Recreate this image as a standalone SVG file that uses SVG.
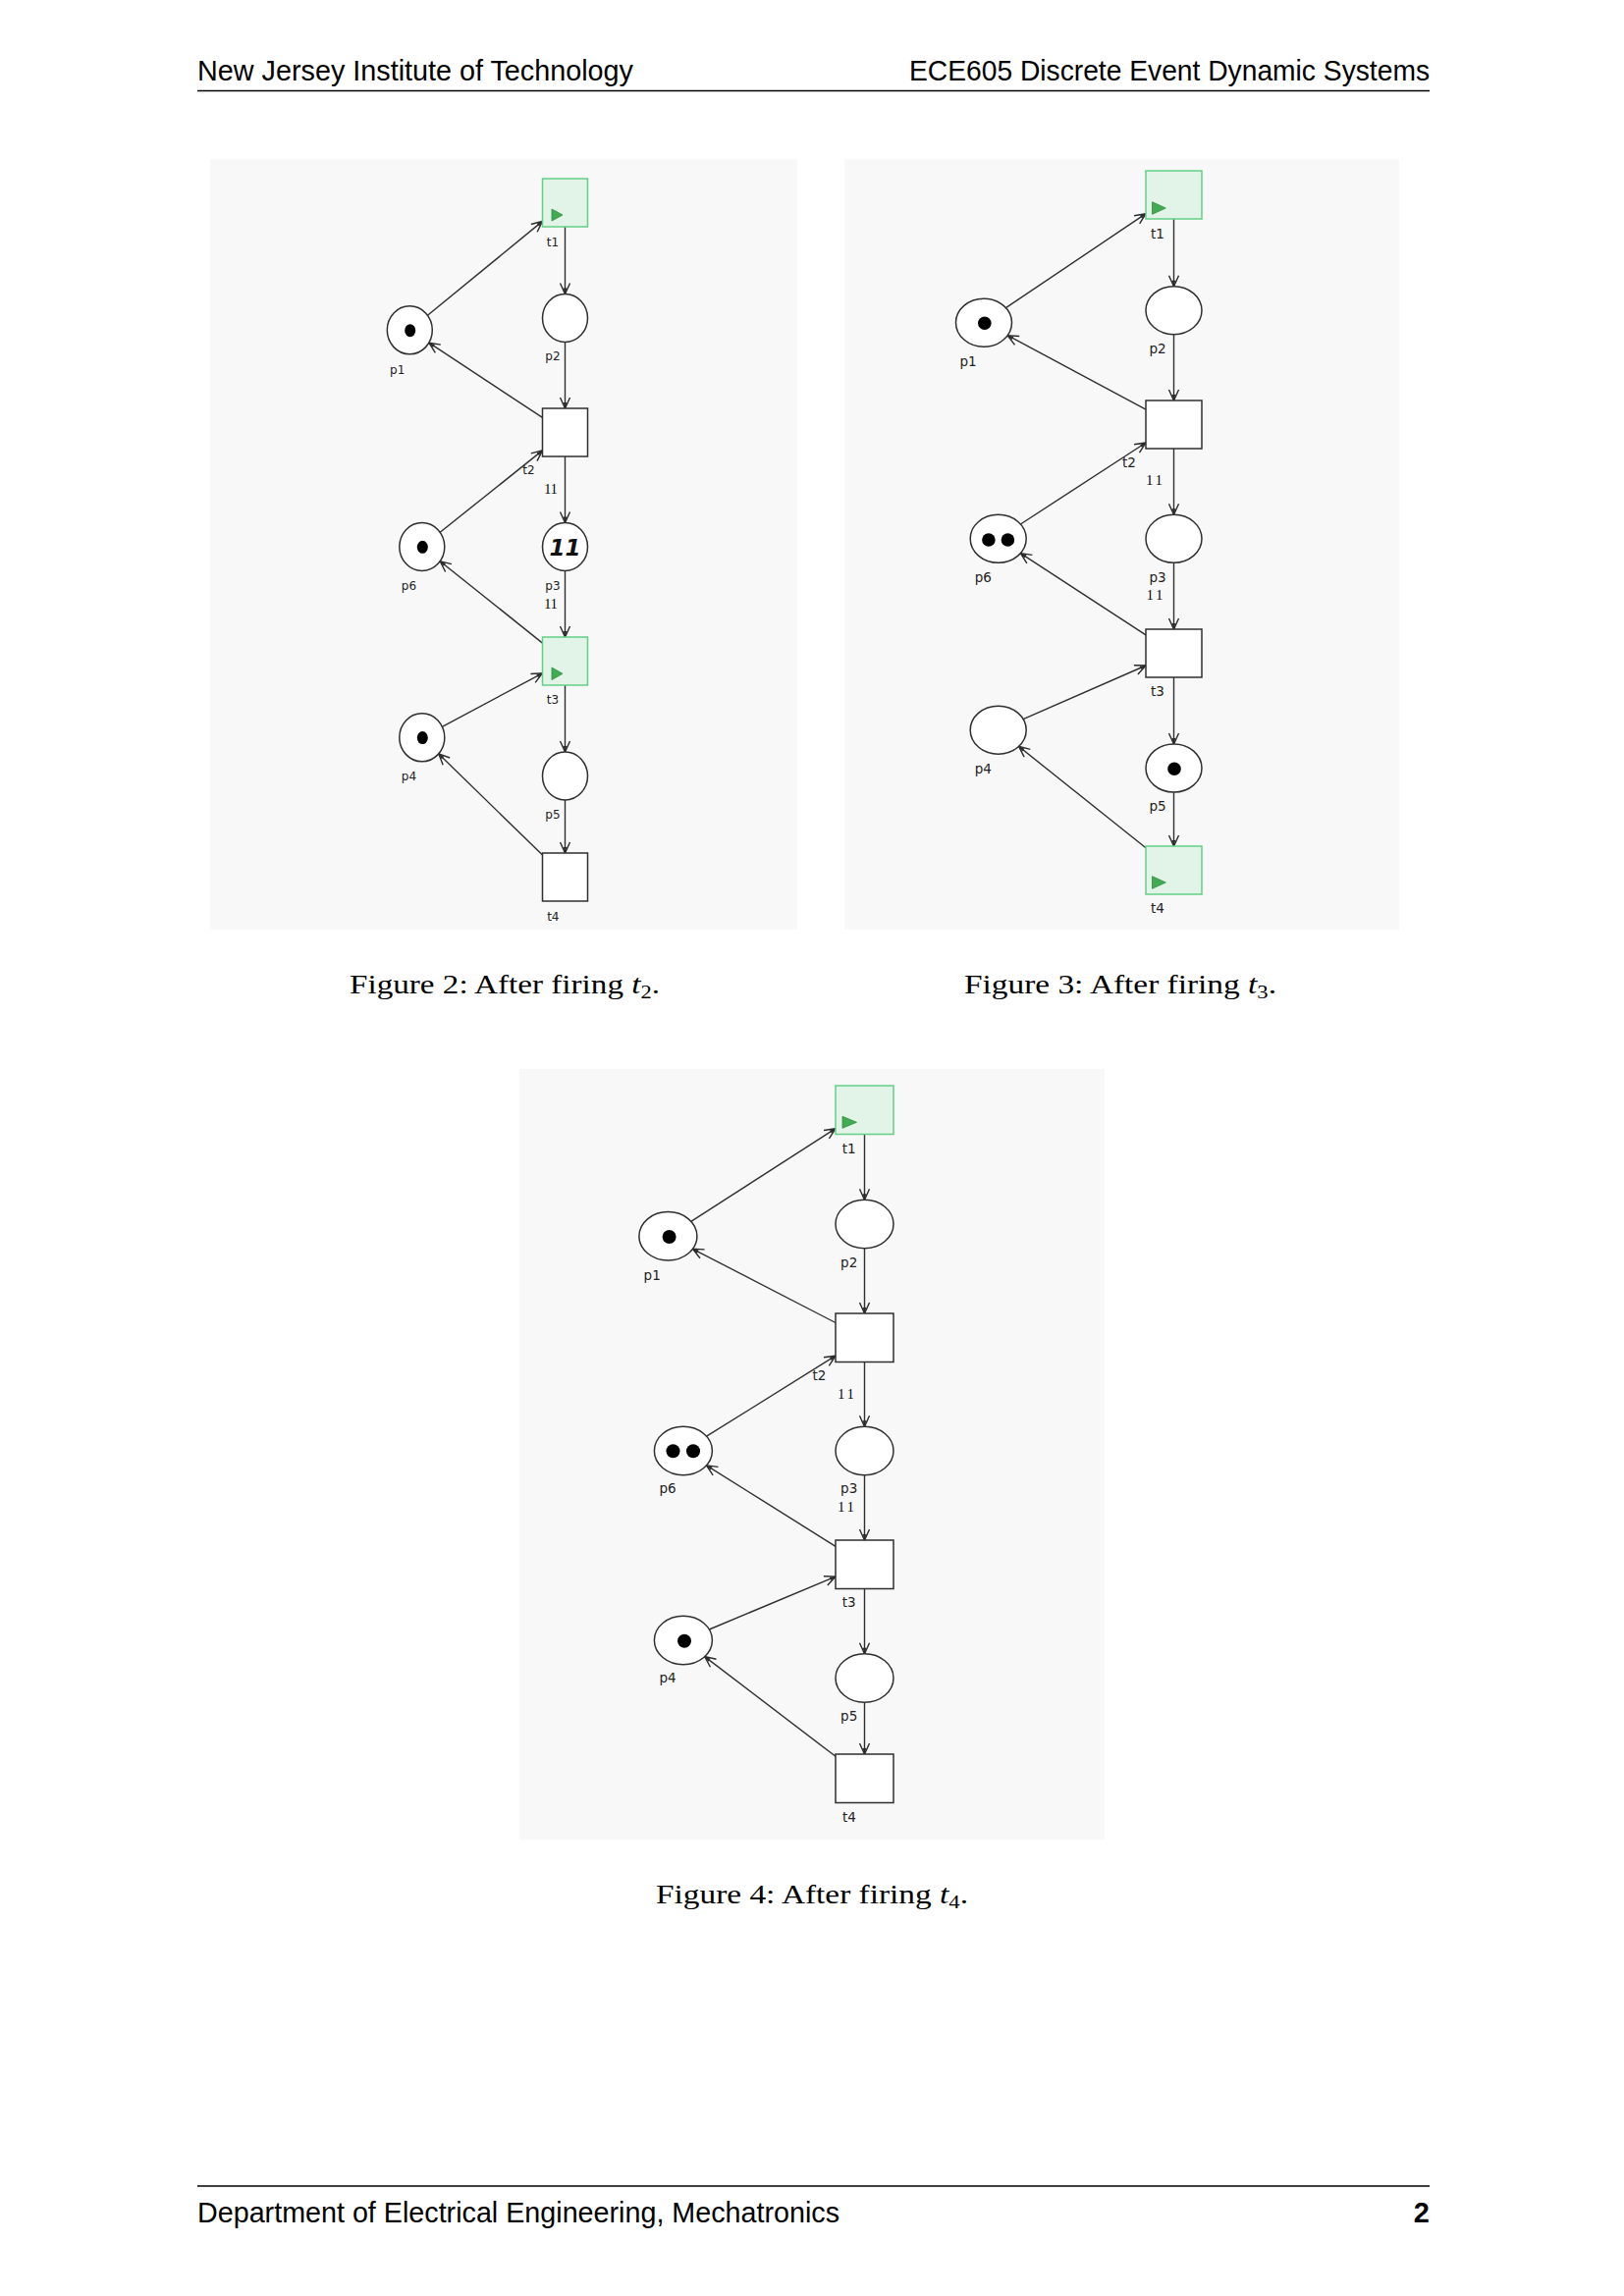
<svg xmlns="http://www.w3.org/2000/svg" width="1654" height="2339" viewBox="0 0 1654 2339">
<defs>
<marker id="ah" viewBox="-12 -7 14 14" refX="0" refY="0" markerWidth="14" markerHeight="14" orient="auto" markerUnits="userSpaceOnUse">
<path d="M-11,-5 L0,0 L-11,5" fill="none" stroke="#2a2a2a" stroke-width="1.4"/>
<path d="M-6,-1.8 L0,0 L-6,1.8 z" fill="#2a2a2a"/>
</marker>
<style>
.hdr{font-family:"Liberation Sans",Arial,sans-serif;font-size:29px;fill:#000}
.cap{font-family:"Liberation Serif","Times New Roman",serif;font-size:28px;fill:#000}
.panel{fill:#f8f8f8}
.pl{fill:#fff;stroke:#2f2f2f;stroke-width:1.5}
.tr{fill:#fff;stroke:#2f2f2f;stroke-width:1.5}
.en{fill:#e2f3e7;stroke:#63cf86;stroke-width:1.5}
.play{fill:#43aa52;stroke:#2f8f3e;stroke-width:0.8}
.tok{fill:#000}
.arc{stroke:#2f2f2f;stroke-width:1.4;fill:none;marker-end:url(#ah)}
.lb{font-family:"DejaVu Sans",Verdana,sans-serif;font-size:12px;fill:#222;text-anchor:middle}
.lb3{font-family:"DejaVu Sans",Verdana,sans-serif;font-size:13.5px;fill:#222;text-anchor:middle}
.w{font-family:"Liberation Serif","Times New Roman",serif;font-size:14px;fill:#000;text-anchor:middle}
.big{font-family:"DejaVu Sans",sans-serif;font-style:italic;font-weight:bold;font-size:23px;fill:#111;text-anchor:middle}
</style>
</defs>
<rect width="1654" height="2339" fill="#fff"/>

<g id="header">
<text class="hdr" x="201" y="82" textLength="444" lengthAdjust="spacingAndGlyphs">New Jersey Institute of Technology</text>
<text class="hdr" x="1456" y="82" text-anchor="end" textLength="530" lengthAdjust="spacingAndGlyphs">ECE605 Discrete Event Dynamic Systems</text>
<line x1="201" y1="92.5" x2="1456" y2="92.5" stroke="#000" stroke-width="1.3"/>
</g>

<!-- Figure 2 -->
<g id="fig2">
<rect class="panel" x="214" y="162" width="598" height="785"/>
<g id="fig2-connectors">
<line class="arc" x1="435.5" y1="321.3" x2="552.5" y2="225.4"/>
<line class="arc" x1="575.5" y1="231" x2="575.5" y2="299.5"/>
<line class="arc" x1="575.5" y1="348.5" x2="575.5" y2="416"/>
<line class="arc" x1="552.5" y1="425.4" x2="436.9" y2="349.2"/>
<line class="arc" x1="448.2" y1="542.3" x2="552.5" y2="458.9"/>
<line class="arc" x1="575.5" y1="465" x2="575.5" y2="532.5"/>
<line class="arc" x1="575.5" y1="581.5" x2="575.5" y2="649"/>
<line class="arc" x1="552.5" y1="655.1" x2="448.2" y2="571.7"/>
<line class="arc" x1="450.4" y1="740.3" x2="552.5" y2="685.8"/>
<line class="arc" x1="575.5" y1="698" x2="575.5" y2="766"/>
<line class="arc" x1="575.5" y1="815" x2="575.5" y2="869"/>
<line class="arc" x1="552.5" y1="871.1" x2="446.8" y2="767.9"/>
<text class="w" x="561" y="502.5">11</text>
<text class="w" x="561" y="619.5">11</text>
</g>
<g id="fig2-t1"><rect class="en" x="552.5" y="182" width="46" height="49"/><polygon class="play" points="562,213 573,219 562,225"/><text class="lb" x="563" y="251">t1</text></g>
<g id="fig2-p1"><ellipse class="pl" cx="417.3" cy="336.3" rx="23" ry="24.5"/><ellipse class="tok" cx="417.7" cy="336.7" rx="5.5" ry="6.5"/><text class="lb" x="404.7" y="381">p1</text></g>
<g id="fig2-p2"><ellipse class="pl" cx="575.5" cy="324" rx="23" ry="24.5"/><text class="lb" x="563" y="367">p2</text></g>
<g id="fig2-t2"><rect class="tr" x="552.5" y="416" width="46" height="49"/><text class="lb" x="538.5" y="483">t2</text></g>
<g id="fig2-p6"><ellipse class="pl" cx="429.8" cy="557" rx="23" ry="24.5"/><ellipse class="tok" cx="430.3" cy="557.3" rx="5.5" ry="6.5"/><text class="lb" x="416.5" y="601">p6</text></g>
<g id="fig2-p3"><ellipse class="pl" cx="575.5" cy="557" rx="23" ry="24.5"/><text class="big" x="575.5" y="565.5">11</text><text class="lb" x="563" y="601">p3</text></g>
<g id="fig2-t3"><rect class="en" x="552.5" y="649" width="46" height="49"/><polygon class="play" points="562,680 573,686.3 562,692.6"/><text class="lb" x="563" y="717">t3</text></g>
<g id="fig2-p4"><ellipse class="pl" cx="429.8" cy="751.3" rx="23" ry="24.5"/><ellipse class="tok" cx="430.3" cy="751.6" rx="5.5" ry="6.5"/><text class="lb" x="416.5" y="795">p4</text></g>
<g id="fig2-p5"><ellipse class="pl" cx="575.5" cy="790.5" rx="23" ry="24.5"/><text class="lb" x="563" y="834">p5</text></g>
<g id="fig2-t4"><rect class="tr" x="552.5" y="869" width="46" height="49"/><text class="lb" x="563.3" y="937.5">t4</text></g>
</g>
<text class="cap" x="356" y="1012" textLength="316" lengthAdjust="spacingAndGlyphs">Figure 2: After firing <tspan font-style="italic">t</tspan><tspan font-size="19" dy="5">2</tspan><tspan dy="-5">.</tspan></text>

<!-- Figure 3 -->
<g id="fig3">
<rect class="panel" x="860" y="162" width="565" height="785"/>
<g id="fig3-connectors">
<line class="arc" x1="1024.4" y1="313.6" x2="1167" y2="217.7"/>
<line class="arc" x1="1195.5" y1="223" x2="1195.5" y2="291.7"/>
<line class="arc" x1="1195.5" y1="340.7" x2="1195.5" y2="408"/>
<line class="arc" x1="1167" y1="417.2" x2="1026.2" y2="341.7"/>
<line class="arc" x1="1039.4" y1="534" x2="1167" y2="451"/>
<line class="arc" x1="1195.5" y1="457" x2="1195.5" y2="524.3"/>
<line class="arc" x1="1195.5" y1="573.3" x2="1195.5" y2="641"/>
<line class="arc" x1="1167" y1="646.9" x2="1039.4" y2="563.6"/>
<line class="arc" x1="1042.1" y1="732.6" x2="1167" y2="678"/>
<line class="arc" x1="1195.5" y1="690" x2="1195.5" y2="758"/>
<line class="arc" x1="1195.5" y1="807" x2="1195.5" y2="862"/>
<line class="arc" x1="1167" y1="863.7" x2="1037.6" y2="760.4"/>
<text class="w" x="1177" y="494" letter-spacing="3">11</text>
<text class="w" x="1177.5" y="611" letter-spacing="3">11</text>
</g>
<g id="fig3-t1"><rect class="en" x="1167" y="174" width="57" height="49"/><polygon class="play" points="1173.5,205.7 1187.3,212 1173.5,218.3"/><text class="lb3" x="1179" y="242.5">t1</text></g>
<g id="fig3-p1"><ellipse class="pl" cx="1002" cy="328.7" rx="28.5" ry="24.5"/><circle class="tok" cx="1002.8" cy="329.3" r="6.8"/><text class="lb3" x="986" y="372.5">p1</text></g>
<g id="fig3-p2"><ellipse class="pl" cx="1195.5" cy="316.2" rx="28.5" ry="24.5"/><text class="lb3" x="1179" y="360">p2</text></g>
<g id="fig3-t2"><rect class="tr" x="1167" y="408" width="57" height="49"/><text class="lb3" x="1150" y="476">t2</text></g>
<g id="fig3-p6"><ellipse class="pl" cx="1016.7" cy="548.8" rx="28.5" ry="24.5"/><circle class="tok" cx="1006.9" cy="550" r="6.8"/><circle class="tok" cx="1026.4" cy="550" r="6.8"/><text class="lb3" x="1001.3" y="593">p6</text></g>
<g id="fig3-p3"><ellipse class="pl" cx="1195.5" cy="548.8" rx="28.5" ry="24.5"/><text class="lb3" x="1179" y="592.5">p3</text></g>
<g id="fig3-t3"><rect class="tr" x="1167" y="641" width="57" height="49"/><text class="lb3" x="1179" y="709">t3</text></g>
<g id="fig3-p4"><ellipse class="pl" cx="1016.7" cy="743.7" rx="28.5" ry="24.5"/><text class="lb3" x="1001.3" y="787.5">p4</text></g>
<g id="fig3-p5"><ellipse class="pl" cx="1195.5" cy="782.5" rx="28.5" ry="24.5"/><circle class="tok" cx="1196" cy="783.3" r="6.8"/><text class="lb3" x="1179" y="826">p5</text></g>
<g id="fig3-t4"><rect class="en" x="1167" y="862" width="57" height="49"/><polygon class="play" points="1173.5,892.7 1187.3,899 1173.5,905.3"/><text class="lb3" x="1179" y="929.5">t4</text></g>
</g>
<text class="cap" x="982" y="1012" textLength="318" lengthAdjust="spacingAndGlyphs">Figure 3: After firing <tspan font-style="italic">t</tspan><tspan font-size="19" dy="5">3</tspan><tspan dy="-5">.</tspan></text>

<!-- Figure 4 -->
<g id="fig4">
<rect class="panel" x="529" y="1089" width="596" height="785"/>
<g id="fig4-connectors">
<line class="arc" x1="703.8" y1="1244.3" x2="851" y2="1149.7"/>
<line class="arc" x1="880.5" y1="1155.5" x2="880.5" y2="1222.3"/>
<line class="arc" x1="880.5" y1="1271.7" x2="880.5" y2="1338"/>
<line class="arc" x1="851" y1="1347.5" x2="705.5" y2="1272.3"/>
<line class="arc" x1="719.6" y1="1463.2" x2="851" y2="1381.2"/>
<line class="arc" x1="880.5" y1="1387.5" x2="880.5" y2="1453.3"/>
<line class="arc" x1="880.5" y1="1502.7" x2="880.5" y2="1569"/>
<line class="arc" x1="851" y1="1575.3" x2="719.5" y2="1492.8"/>
<line class="arc" x1="722.3" y1="1660" x2="851" y2="1606.1"/>
<line class="arc" x1="880.5" y1="1618.5" x2="880.5" y2="1684.8"/>
<line class="arc" x1="880.5" y1="1734.2" x2="880.5" y2="1787"/>
<line class="arc" x1="851" y1="1789.3" x2="717.7" y2="1687.6"/>
<text class="w" x="863" y="1424.5" letter-spacing="3">11</text>
<text class="w" x="863" y="1539.5" letter-spacing="3">11</text>
</g>
<g id="fig4-t1"><rect class="en" x="851" y="1106" width="59" height="49.5"/><polygon class="play" points="858,1137.3 872.5,1143.3 858,1149.3"/><text class="lb3" x="864.7" y="1174.5">t1</text></g>
<g id="fig4-p1"><ellipse class="pl" cx="680.4" cy="1259.3" rx="29.5" ry="24.7"/><circle class="tok" cx="681.6" cy="1260" r="7"/><text class="lb3" x="664.2" y="1303.5">p1</text></g>
<g id="fig4-p2"><ellipse class="pl" cx="880.5" cy="1247" rx="29.5" ry="24.7"/><text class="lb3" x="864.7" y="1291">p2</text></g>
<g id="fig4-t2"><rect class="tr" x="851" y="1338" width="59" height="49.5"/><text class="lb3" x="834.5" y="1406">t2</text></g>
<g id="fig4-p6"><ellipse class="pl" cx="695.9" cy="1478" rx="29.5" ry="24.7"/><circle class="tok" cx="685.5" cy="1478.3" r="7"/><circle class="tok" cx="706" cy="1478.3" r="7"/><text class="lb3" x="680" y="1521">p6</text></g>
<g id="fig4-p3"><ellipse class="pl" cx="880.5" cy="1478" rx="29.5" ry="24.7"/><text class="lb3" x="864.7" y="1521">p3</text></g>
<g id="fig4-t3"><rect class="tr" x="851" y="1569" width="59" height="49.5"/><text class="lb3" x="864.7" y="1636.5">t3</text></g>
<g id="fig4-p4"><ellipse class="pl" cx="695.9" cy="1671" rx="29.5" ry="24.7"/><circle class="tok" cx="697" cy="1671.7" r="7"/><text class="lb3" x="680" y="1714">p4</text></g>
<g id="fig4-p5"><ellipse class="pl" cx="880.5" cy="1709.5" rx="29.5" ry="24.7"/><text class="lb3" x="864.7" y="1752.5">p5</text></g>
<g id="fig4-t4"><rect class="tr" x="851" y="1787" width="59" height="49.5"/><text class="lb3" x="865" y="1856">t4</text></g>
</g>
<text class="cap" x="668" y="1939" textLength="318" lengthAdjust="spacingAndGlyphs">Figure 4: After firing <tspan font-style="italic">t</tspan><tspan font-size="19" dy="5">4</tspan><tspan dy="-5">.</tspan></text>

<g id="footer">
<line x1="201" y1="2227" x2="1456" y2="2227" stroke="#000" stroke-width="1.3"/>
<text class="hdr" x="201" y="2264" textLength="654" lengthAdjust="spacingAndGlyphs">Department of Electrical Engineering, Mechatronics</text>
<text class="hdr" x="1456" y="2264" text-anchor="end" font-weight="bold">2</text>
</g>
</svg>
